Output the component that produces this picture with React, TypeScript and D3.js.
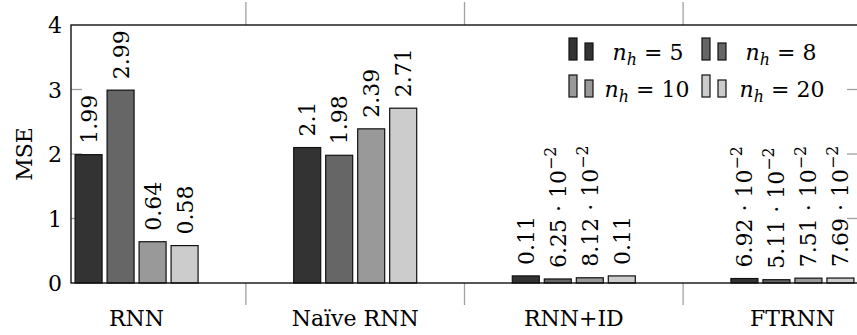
import React from "react";
import * as d3 from "d3";

const categories = ["RNN", "Naïve RNN", "RNN+ID", "FTRNN"];
const seriesNames = ["5", "8", "10", "20"];
const seriesNh5 = [1.99, 2.1, 0.11, 0.0692];
const seriesNh8 = [2.99, 1.98, 0.0625, 0.0511];
const seriesNh10 = [0.64, 2.39, 0.0812, 0.0751];
const seriesNh20 = [0.58, 2.71, 0.11, 0.0769];
const series = [seriesNh5, seriesNh8, seriesNh10, seriesNh20];
const yTicks = [0, 1, 2, 3, 4];
const fills = ["#333333", "#666666", "#999999", "#cccccc"];

const W = 857;
const H = 335;
const left = 71;
const right = 858;
const top = 25;
const bottom = 283;
const FONT = "DejaVu Serif";
const FS = 22;

const x = d3.scaleLinear().domain([-0.3, 3.3]).range([left, right]);
const y = d3.scaleLinear().domain([0, 4]).range([bottom, top]);
const barStep = 32;
const barW = 27;

function Label({ v, cx, ty }: { v: number; cx: number; ty: number }) {
  const small = v < 0.1;
  const txt = small ? (v * 100).toFixed(2) : String(v);
  return (
    <text
      transform={`translate(${cx + 8},${ty}) rotate(-90)`}
      fontFamily={FONT}
      fontSize={FS}
      textAnchor="start"
      fill="#000"
    >
      {txt}
      {small && (
        <>
          <tspan> · 10</tspan>
          <tspan fontSize={FS * 0.72} dy={-10}>
            −2
          </tspan>
        </>
      )}
    </text>
  );
}

function LegendEntry({ i, lx, ly, tc }: { i: number; lx: number; ly: number; tc: number }) {
  return (
    <g>
      <rect x={lx} y={ly - 22} width={8} height={22} fill={fills[i]} stroke="#111" strokeWidth={1.2} />
      <rect x={lx + 16} y={ly - 17} width={8} height={17} fill={fills[i]} stroke="#111" strokeWidth={1.2} />
      <text x={tc} y={ly} fontFamily={FONT} fontSize={FS} textAnchor="middle">
        <tspan fontStyle="italic">n</tspan>
        <tspan fontStyle="italic" fontSize={FS * 0.72} dy={5}>h</tspan>
        <tspan dy={-5}>{" = " + seriesNames[i]}</tspan>
      </text>
    </g>
  );
}

export default function App() {
  const sepTicks = [0.5, 1.5, 2.5];
  return (
    <svg
      width={W}
      height={H}
      viewBox={`0 0 ${W} ${H}`}
      style={{ position: "absolute", left: 0, top: 0, background: "#fff" }}
    >
      {sepTicks.map((t) => (
        <g key={t} stroke="#a0a0a0" strokeWidth={1.3}>
          <line x1={x(t)} x2={x(t)} y1={2} y2={top} />
          <line x1={x(t)} x2={x(t)} y1={bottom} y2={305} />
        </g>
      ))}
      {yTicks.slice(1, 4).map((t) => (
        <g key={t} stroke="#a0a0a0" strokeWidth={1.3}>
          <line x1={left} x2={left + 11} y1={y(t)} y2={y(t)} />
          <line x1={right - 11} x2={right} y1={y(t)} y2={y(t)} />
        </g>
      ))}
      {series.map((s, si) =>
        s.map((v, ci) => {
          const cx = x(ci) + (si - 1.5) * barStep;
          return (
            <rect
              key={`${si}-${ci}`}
              x={cx - barW / 2}
              y={y(v)}
              width={barW}
              height={y(0) - y(v)}
              fill={fills[si]}
              stroke="#111"
              strokeWidth={1.2}
            />
          );
        })
      )}
      <rect x={left} y={top} width={right - left} height={bottom - top} fill="none" stroke="#111" strokeWidth={1.4} />
      {series.map((s, si) =>
        s.map((v, ci) => {
          const cx = x(ci) + (si - 1.5) * barStep;
          return <Label key={`l${si}-${ci}`} v={v} cx={cx} ty={y(v) - 11} />;
        })
      )}
      {yTicks.map((t) => (
        <text key={t} x={62} y={y(t) + 8} textAnchor="end" fontFamily={FONT} fontSize={FS}>
          {t}
        </text>
      ))}
      {categories.map((c, i) => (
        <text key={c} x={x(i)} y={326} textAnchor="middle" fontFamily={FONT} fontSize={FS}>
          {c}
        </text>
      ))}
      <text transform="translate(32,154) rotate(-90)" textAnchor="middle" fontFamily={FONT} fontSize={FS}>
        MSE
      </text>
      <LegendEntry i={0} lx={569} ly={60} tc={648} />
      <LegendEntry i={1} lx={702} ly={60} tc={781} />
      <LegendEntry i={2} lx={569} ly={97} tc={647} />
      <LegendEntry i={3} lx={702} ly={97} tc={782} />
    </svg>
  );
}
